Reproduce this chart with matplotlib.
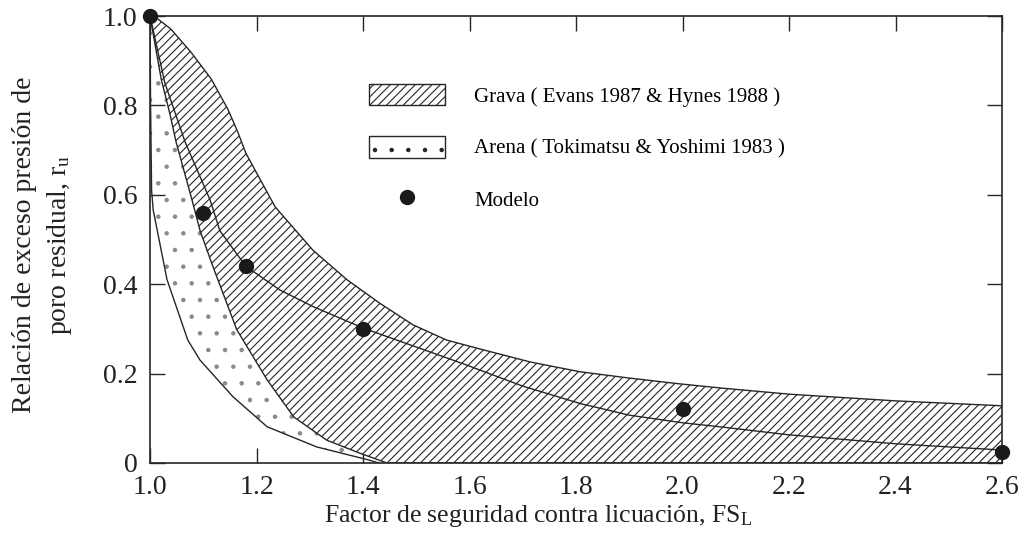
"""Relación de exceso de presión de poro residual vs factor de seguridad (grava / arena / modelo)."""
import matplotlib
matplotlib.use("Agg")
import matplotlib.pyplot as plt
from matplotlib.patches import Patch
from matplotlib.lines import Line2D
import numpy as np

plt.rcParams['font.family'] = ['Liberation Serif', 'DejaVu Serif']
plt.rcParams['mathtext.fontset'] = 'custom'
plt.rcParams['mathtext.rm'] = 'Liberation Serif'
plt.rcParams['mathtext.it'] = 'Liberation Serif:italic'
plt.rcParams['hatch.linewidth'] = 0.8

# Banda de grava (Evans 1987 & Hynes 1988): borde superior
grava_sup_fs = [1.000, 1.013, 1.039, 1.077, 1.115, 1.146, 1.165, 1.180, 1.235, 1.306,
                1.370, 1.432, 1.494, 1.557, 1.620, 1.714, 1.808, 1.900, 1.995, 2.070,
                2.200, 2.400, 2.600]
grava_sup_ru = [1.000, 0.995, 0.971, 0.919, 0.859, 0.792, 0.740, 0.693, 0.573, 0.476,
                0.410, 0.357, 0.309, 0.275, 0.255, 0.226, 0.204, 0.190, 0.177, 0.168,
                0.154, 0.139, 0.128]

# Banda de grava: borde inferior (también límite superior de la arena)
grava_inf_fs = [1.000, 1.021, 1.038, 1.049, 1.079, 1.094, 1.118, 1.163, 1.220, 1.270,
                1.332, 1.394, 1.445, 2.600]
grava_inf_ru = [1.000, 0.859, 0.778, 0.718, 0.588, 0.520, 0.440, 0.298, 0.186, 0.103,
                0.051, 0.022, 0.000, 0.000]

# Banda de arena (Tokimatsu & Yoshimi 1983): borde inferior
arena_inf_fs = [1.000, 1.001, 1.003, 1.006, 1.032, 1.071, 1.094, 1.156, 1.220, 1.313,
                1.410, 1.430]
arena_inf_ru = [1.000, 0.810, 0.610, 0.566, 0.410, 0.275, 0.230, 0.148, 0.081, 0.036,
                0.007, 0.000]

# Curva media dentro de la banda de grava
curva_fs = [1.000, 1.028, 1.066, 1.113, 1.131, 1.180, 1.244, 1.306, 1.400, 1.494,
            1.588, 1.700, 1.808, 1.900, 2.000, 2.070, 2.200, 2.400, 2.600]
curva_ru = [1.000, 0.850, 0.718, 0.588, 0.520, 0.440, 0.387, 0.350, 0.302, 0.262,
            0.222, 0.172, 0.133, 0.107, 0.090, 0.081, 0.063, 0.043, 0.029]

# Resultados del modelo
modelo_fs = [1.00, 1.10, 1.18, 1.40, 2.00, 2.60]
modelo_ru = [1.000, 0.560, 0.440, 0.300, 0.121, 0.025]

x_ticks = [1.0, 1.2, 1.4, 1.6, 1.8, 2.0, 2.2, 2.4, 2.6]
y_ticks = [0.0, 0.2, 0.4, 0.6, 0.8, 1.0]
y_tick_labels = ['0', '0.2', '0.4', '0.6', '0.8', '1.0']

ink = '#262626'

fig = plt.figure(figsize=(10.24, 5.56), dpi=100)
ax = fig.add_axes([150 / 1024, 1 - 463 / 556, 852 / 1024, 447 / 556])

# regiones sombreadas
sand_x = np.concatenate([arena_inf_fs, grava_inf_fs[-2::-1]])
sand_y = np.concatenate([arena_inf_ru, grava_inf_ru[-2::-1]])
ax.fill(sand_x, sand_y, facecolor='white', edgecolor='#8a8a8a', lw=0, hatch='.', zorder=1)

grav_x = np.concatenate([grava_sup_fs, grava_inf_fs[::-1]])
grav_y = np.concatenate([grava_sup_ru, grava_inf_ru[::-1]])
ax.fill(grav_x, grav_y, facecolor='white', edgecolor=ink, lw=0, hatch='////', zorder=2)

# contornos
for xs, ys in [(grava_sup_fs, grava_sup_ru), (grava_inf_fs, grava_inf_ru),
               (arena_inf_fs, arena_inf_ru), (curva_fs, curva_ru)]:
    ax.plot(xs, ys, color=ink, lw=1.0, zorder=3)

ax.plot(modelo_fs, modelo_ru, 'o', color='#1a1a1a', ms=10, zorder=5, clip_on=False)

ax.set_xlim(1.0, 2.6)
ax.set_ylim(0.0, 1.0)
ax.set_xticks(x_ticks)
ax.set_xticklabels([f'{v:.1f}' for v in x_ticks])
ax.set_yticks(y_ticks)
ax.set_yticklabels(y_tick_labels)
ax.tick_params(direction='in', length=11, width=1.0, color=ink, top=True, right=True,
               labelsize=20, labelcolor='#222222')
ax.tick_params(axis='x', pad=9)
ax.tick_params(axis='y', pad=9)
for sp in ax.spines.values():
    sp.set_color(ink)
    sp.set_linewidth(1.2)

# leyenda
handles = [
    Patch(facecolor='white', edgecolor=ink, lw=1.0, hatch='////'),
    Patch(facecolor='white', edgecolor='#8a8a8a', lw=1.0, hatch='.'),
    Line2D([], [], marker='o', ls='', color='#1a1a1a', ms=10),
]
labels = ['Grava ( Evans 1987 & Hynes 1988 )',
          'Arena ( Tokimatsu & Yoshimi 1983 )',
          'Modelo']
leg = ax.legend(handles, labels, loc='upper left', bbox_to_anchor=(0.257, 0.848),
                frameon=False, fontsize=15, handlelength=3.65, handleheight=1.2,
                handletextpad=1.4, labelspacing=1.42, borderpad=0, borderaxespad=0)
# borde oscuro en la caja de la arena
leg.legend_handles[1].set_edgecolor(ink)

fig.text(43 / 1024, 1 - 245 / 556,
         'Relación de exceso presión de\nporo residual, r$_\\mathrm{u}$',
         rotation=90, ha='center', va='center', multialignment='center',
         fontsize=20, linespacing=1.35, color='#222222')
fig.text(538 / 1024, 1 - 522 / 556,
         'Factor de seguridad contra licuación, FS$_\\mathrm{L}$',
         ha='center', va='baseline', fontsize=18.5, color='#222222')

fig.savefig('out.png', dpi=100)
